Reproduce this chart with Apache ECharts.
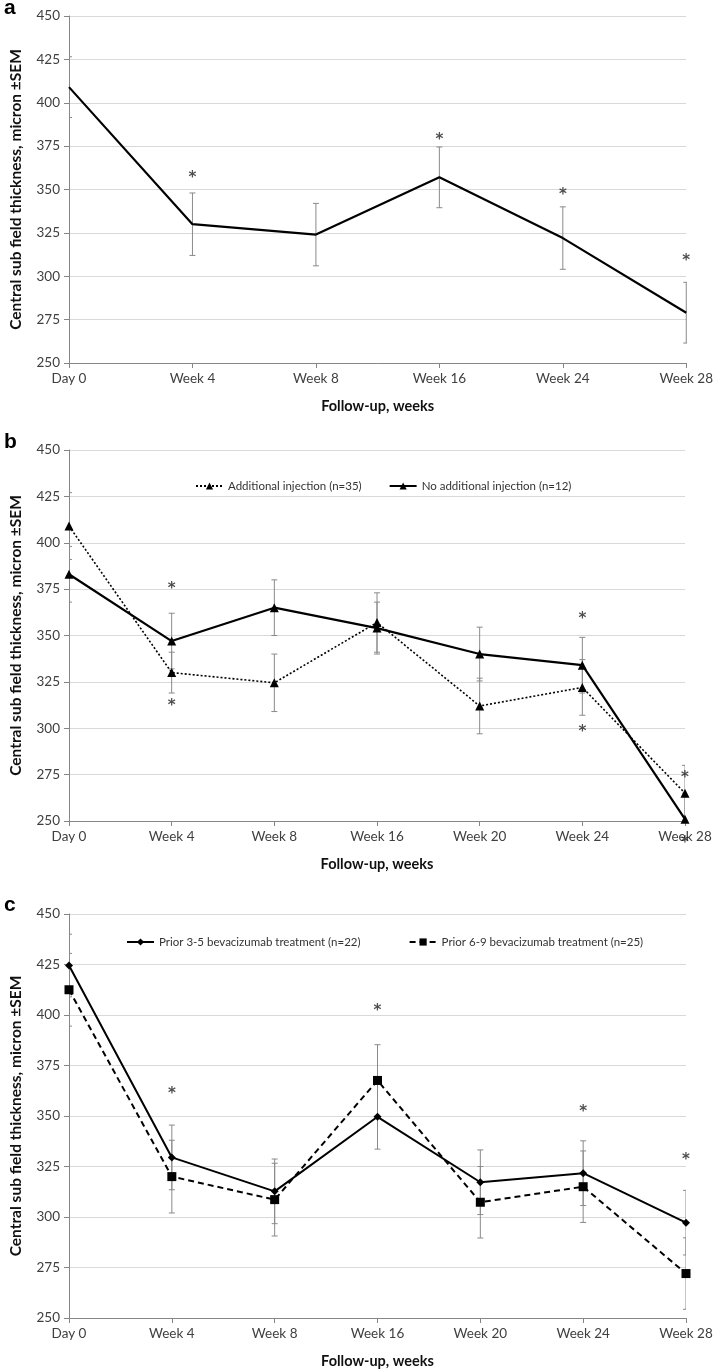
<!DOCTYPE html>
<html><head><meta charset="utf-8">
<script src="https://cdn.jsdelivr.net/npm/echarts@6/dist/echarts.min.js"></script>
<style>html,body{margin:0;padding:0;background:#fff}#c{width:716px;height:1371px}</style>
</head><body><div id="c"></div>
<script>
// ---- Panel a ----
const catsA = ['Day 0','Week 4','Week 8','Week 16','Week 24','Week 28'];
const meanA = [409, 330, 324, 357, 322, 279];
const semA  = [17.5, 18, 18, 17.5, 18, 17.5];
const starA = [[1, 359], [3, 381], [4, 349], [5, 311]];

// ---- Panel b ----
const catsB = ['Day 0','Week 4','Week 8','Week 16','Week 20','Week 24','Week 28'];
const addInjB = [409, 330, 324.5, 357, 312, 322, 265];
const addInjSemB = [18, 11, 15.5, 16, 15, 15, 15];
const noInjB = [383, 347, 365, 354, 340, 334, 251];
const noInjSemB = [15, 15, 15, 14, 14.5, 15, 14];
const starB = [[1, 377], [1, 314], [5, 361], [5, 300], [6, 275.5], [6, 240]];

// ---- Panel c ----
const catsC = ['Day 0','Week 4','Week 8','Week 16','Week 20','Week 24','Week 28'];
const prior35C = [424.5, 329.5, 312.7, 349.6, 317.2, 321.7, 297.2];
const prior35SemC = [15.5, 16, 16, 16, 16, 16, 16];
const prior69C = [412.5, 320, 308.6, 367.6, 307.3, 315, 272];
const prior69SemC = [18, 18, 18, 17.7, 17.7, 17.7, 17.7];
const starC = [[1, 363], [3, 404], [5, 354], [6, 330]];

const yTicks = {min: 250, max: 450, interval: 25};
const FONT = 'Lato';
const AXIS = '#868686';

function errData(means, sems){ return means.map((m,i)=>[i, m - sems[i], m + sems[i]]); }
function errRender(params, api){
  const lo = api.coord([api.value(0), api.value(1)]);
  const hi = api.coord([api.value(0), api.value(2)]);
  const w = 3;
  const style = {stroke: '#8a8a8a', lineWidth: 1, fill: null};
  return {type: 'group', children: [
    {type: 'line', shape: {x1: hi[0], y1: hi[1], x2: lo[0], y2: lo[1]}, style},
    {type: 'line', shape: {x1: hi[0]-w, y1: hi[1], x2: hi[0]+w, y2: hi[1]}, style},
    {type: 'line', shape: {x1: lo[0]-w, y1: lo[1], x2: lo[0]+w, y2: lo[1]}, style}
  ]};
}
function errSeries(idx, means, sems){
  return {type: 'custom', xAxisIndex: idx, yAxisIndex: idx, renderItem: errRender,
    data: errData(means, sems), z: 1, silent: true, clip: true};
}
function starSeries(idx, pts){
  return {type: 'scatter', xAxisIndex: idx, yAxisIndex: idx, data: pts, symbolSize: 2,
    itemStyle: {color: 'rgba(0,0,0,0)'}, clip: false, silent: true, z: 5,
    label: {show: true, position: 'inside', formatter: '*', fontFamily: 'DejaVu Sans', fontWeight: 'bold',
      fontSize: 15, color: '#222', offset: [0, 4]}};
}
function xAx(idx, cats){
  return {type: 'category', gridIndex: idx, data: cats, boundaryGap: false,
    axisLine: {lineStyle: {color: AXIS, width: 1}},
    axisTick: {show: true, length: 5, lineStyle: {color: AXIS}},
    axisLabel: {fontFamily: FONT, fontSize: 13.5, color: '#404040', margin: 9},
    name: 'Follow-up, weeks', nameLocation: 'middle', nameGap: 36,
    nameTextStyle: {fontFamily: FONT, fontWeight: 'bold', fontSize: 14.5, color: '#111'}};
}
function yAx(idx){
  return Object.assign({type: 'value', gridIndex: idx,
    axisLine: {show: true, lineStyle: {color: AXIS, width: 1}},
    axisTick: {show: true, length: 5, lineStyle: {color: AXIS}},
    axisLabel: {fontFamily: FONT, fontSize: 13.5, color: '#404040', margin: 9},
    splitLine: {lineStyle: {color: '#d9d9d9', width: 1.2}},
    name: 'Central sub field thickness, micron \u00b1SEM', nameLocation: 'middle', nameGap: 45, nameRotate: 90,
    nameTextStyle: {fontFamily: FONT, fontWeight: 'bold', fontSize: 15.5, color: '#111'}}, yTicks);
}

const option = {
  animation: false,
  backgroundColor: '#fff',
  grid: [
    {left: 64, top: 16, width: 625, height: 347},
    {left: 65, top: 450, width: 620, height: 371},
    {left: 64, top: 914, width: 622, height: 404}
  ],
  xAxis: [xAx(0, catsA), xAx(1, catsB), xAx(2, catsC)],
  yAxis: [yAx(0), yAx(1), yAx(2)],
  legend: [
    {data: ['Additional injection (n=35)', 'No additional injection (n=12)'], left: 190, top: 475,
      itemWidth: 27, itemHeight: 9, itemGap: 27,
      textStyle: {fontFamily: FONT, fontSize: 11.5, color: '#333'}},
    {data: ['Prior 3-5 bevacizumab treatment (n=22)', 'Prior 6-9 bevacizumab treatment (n=25)'], left: 121, top: 931,
      itemWidth: 27, itemHeight: 9, itemGap: 48,
      textStyle: {fontFamily: FONT, fontSize: 11.5, color: '#333'}}
  ],
  graphic: [
    {type: 'text', left: 4, top: -2, style: {text: 'a', font: 'bold 21px Liberation Sans', fill: '#000'}},
    {type: 'text', left: 4, top: 432, style: {text: 'b', font: 'bold 21px Liberation Sans', fill: '#000'}},
    {type: 'text', left: 4, top: 895, style: {text: 'c', font: 'bold 21px Liberation Sans', fill: '#000'}}
  ],
  series: [
    errSeries(0, meanA, semA),
    {type: 'line', name: 'Mean', xAxisIndex: 0, yAxisIndex: 0, data: meanA, symbol: 'none',
      lineStyle: {color: '#000', width: 2.2}, z: 3},
    starSeries(0, starA),

    errSeries(1, addInjB, addInjSemB),
    errSeries(1, noInjB, noInjSemB),
    {type: 'line', name: 'Additional injection (n=35)', xAxisIndex: 1, yAxisIndex: 1, data: addInjB,
      symbol: 'triangle', symbolSize: 9, itemStyle: {color: '#000'},
      lineStyle: {color: '#000', width: 1.6, type: [2, 2]}, z: 3},
    {type: 'line', name: 'No additional injection (n=12)', xAxisIndex: 1, yAxisIndex: 1, data: noInjB,
      symbol: 'triangle', symbolSize: 9, itemStyle: {color: '#000'},
      lineStyle: {color: '#000', width: 2.2}, z: 3},
    starSeries(1, starB),

    errSeries(2, prior35C, prior35SemC),
    errSeries(2, prior69C, prior69SemC),
    {type: 'line', name: 'Prior 3-5 bevacizumab treatment (n=22)', xAxisIndex: 2, yAxisIndex: 2, data: prior35C,
      symbol: 'diamond', symbolSize: 8, itemStyle: {color: '#000'},
      lineStyle: {color: '#000', width: 2}, z: 3},
    {type: 'line', name: 'Prior 6-9 bevacizumab treatment (n=25)', xAxisIndex: 2, yAxisIndex: 2, data: prior69C,
      symbol: 'rect', symbolSize: 9, itemStyle: {color: '#000'},
      lineStyle: {color: '#000', width: 2, type: [6, 4]}, z: 3},
    starSeries(2, starC)
  ]
};
const chart = echarts.init(document.getElementById('c'), null, {renderer: 'canvas'});
chart.setOption(option);
</script></body></html>
